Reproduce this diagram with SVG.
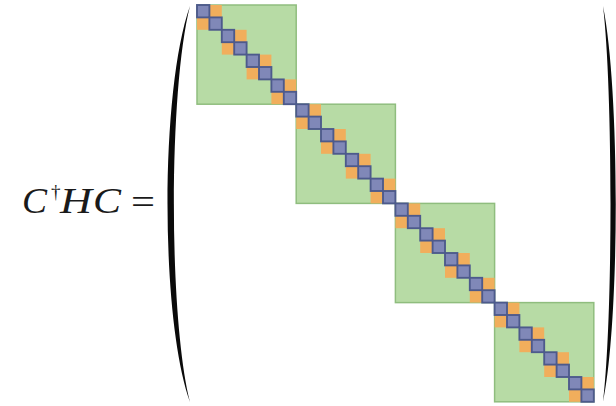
<svg xmlns="http://www.w3.org/2000/svg" xmlns:xlink="http://www.w3.org/1999/xlink" width="616" height="406" viewBox="0 0 616 406">
  <style>
    .blk { fill: #b7dba5; stroke: #8fbd7e; stroke-width: 0.12; }
    .math { font-family: "Liberation Serif", "DejaVu Serif", serif; fill: #1a1a1a; }
    .it { font-style: italic; }
    .paren { fill: #0a0a0a; }
  </style>
  <defs>
    <rect id="b" width="1" height="1" fill="#8088b8" stroke="#4d5a8c" stroke-width="0.15"/>
    <rect id="o" width="1" height="1" fill="#f1ae5c"/>
  </defs>
  <rect width="616" height="406" fill="#ffffff"/>

  <g id="label" class="math">
    <text class="it" x="22" y="213" font-size="35" textLength="25" lengthAdjust="spacingAndGlyphs">C</text>
    <text x="51" y="198" font-size="19">†</text>
    <text class="it" x="60" y="213" font-size="35" textLength="32" lengthAdjust="spacingAndGlyphs">H</text>
    <text class="it" x="93" y="213" font-size="35" textLength="28" lengthAdjust="spacingAndGlyphs">C</text>
    <text x="131" y="214" font-size="36" textLength="24" lengthAdjust="spacingAndGlyphs">=</text>
  </g>

  <g id="parens">
    <path class="paren" d="M190,6 C160,90 160,318 190,402 C168.5,318 168.5,90 190,6 Z"/>
    <path class="paren" d="M603,6 C620,90 620,318 603,402 C613,318 613,90 603,6 Z"/>
  </g>

  <g id="matrix" transform="translate(197,5) scale(12.4)">
    <g id="blocks">
      <rect id="block1" class="blk" x="0" y="0" width="8" height="8"/>
      <rect id="block2" class="blk" x="8" y="8" width="8" height="8"/>
      <rect id="block3" class="blk" x="16" y="16" width="8" height="8"/>
      <rect id="block4" class="blk" x="24" y="24" width="8" height="8"/>
    </g>
    <g id="offdiag">
      <use xlink:href="#o" x="1" y="0"/><use xlink:href="#o" x="0" y="1"/>
      <use xlink:href="#o" x="3" y="2"/><use xlink:href="#o" x="2" y="3"/>
      <use xlink:href="#o" x="5" y="4"/><use xlink:href="#o" x="4" y="5"/>
      <use xlink:href="#o" x="7" y="6"/><use xlink:href="#o" x="6" y="7"/>
      <use xlink:href="#o" x="9" y="8"/><use xlink:href="#o" x="8" y="9"/>
      <use xlink:href="#o" x="11" y="10"/><use xlink:href="#o" x="10" y="11"/>
      <use xlink:href="#o" x="13" y="12"/><use xlink:href="#o" x="12" y="13"/>
      <use xlink:href="#o" x="15" y="14"/><use xlink:href="#o" x="14" y="15"/>
      <use xlink:href="#o" x="17" y="16"/><use xlink:href="#o" x="16" y="17"/>
      <use xlink:href="#o" x="19" y="18"/><use xlink:href="#o" x="18" y="19"/>
      <use xlink:href="#o" x="21" y="20"/><use xlink:href="#o" x="20" y="21"/>
      <use xlink:href="#o" x="23" y="22"/><use xlink:href="#o" x="22" y="23"/>
      <use xlink:href="#o" x="25" y="24"/><use xlink:href="#o" x="24" y="25"/>
      <use xlink:href="#o" x="27" y="26"/><use xlink:href="#o" x="26" y="27"/>
      <use xlink:href="#o" x="29" y="28"/><use xlink:href="#o" x="28" y="29"/>
      <use xlink:href="#o" x="31" y="30"/><use xlink:href="#o" x="30" y="31"/>
    </g>
    <g id="diag">
      <use xlink:href="#b" x="0" y="0"/><use xlink:href="#b" x="1" y="1"/>
      <use xlink:href="#b" x="2" y="2"/><use xlink:href="#b" x="3" y="3"/>
      <use xlink:href="#b" x="4" y="4"/><use xlink:href="#b" x="5" y="5"/>
      <use xlink:href="#b" x="6" y="6"/><use xlink:href="#b" x="7" y="7"/>
      <use xlink:href="#b" x="8" y="8"/><use xlink:href="#b" x="9" y="9"/>
      <use xlink:href="#b" x="10" y="10"/><use xlink:href="#b" x="11" y="11"/>
      <use xlink:href="#b" x="12" y="12"/><use xlink:href="#b" x="13" y="13"/>
      <use xlink:href="#b" x="14" y="14"/><use xlink:href="#b" x="15" y="15"/>
      <use xlink:href="#b" x="16" y="16"/><use xlink:href="#b" x="17" y="17"/>
      <use xlink:href="#b" x="18" y="18"/><use xlink:href="#b" x="19" y="19"/>
      <use xlink:href="#b" x="20" y="20"/><use xlink:href="#b" x="21" y="21"/>
      <use xlink:href="#b" x="22" y="22"/><use xlink:href="#b" x="23" y="23"/>
      <use xlink:href="#b" x="24" y="24"/><use xlink:href="#b" x="25" y="25"/>
      <use xlink:href="#b" x="26" y="26"/><use xlink:href="#b" x="27" y="27"/>
      <use xlink:href="#b" x="28" y="28"/><use xlink:href="#b" x="29" y="29"/>
      <use xlink:href="#b" x="30" y="30"/><use xlink:href="#b" x="31" y="31"/>
    </g>
  </g>
</svg>
